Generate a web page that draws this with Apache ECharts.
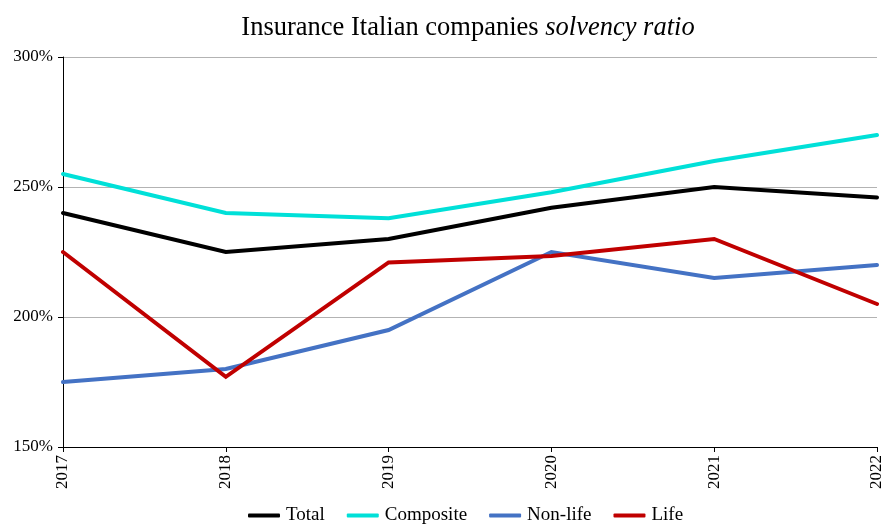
<!DOCTYPE html>
<html><head><meta charset="utf-8">
<script src="https://cdn.jsdelivr.net/npm/echarts@6/dist/echarts.min.js"></script>
<style>html,body{margin:0;padding:0;background:#fff}#c{width:882px;height:525px}</style>
</head><body><div id="c"></div>
<script>
const years = ['2017','2018','2019','2020','2021','2022'];
const total = [240, 225, 230, 242, 250, 246];
const composite = [255, 240, 238, 248, 260, 270];
const nonLife = [175, 180, 195, 225, 215, 220];
const life = [225, 177, 221, 223.5, 230, 205];
const serif = '"Liberation Serif", "Times New Roman", serif';
const chart = echarts.init(document.getElementById('c'));
function s(name, data, color){
  return {name, type:'line', data, symbol:'none', smooth:false,
    lineStyle:{width:4, color, cap:'round', join:'miter'}, itemStyle:{color}};
}
chart.setOption({
  animation:false,
  title:{left:463, textAlign:'center', top:10,
    text:'{a|Insurance Italian companies }{b|solvency ratio}',
    textStyle:{rich:{
      a:{fontFamily:serif, fontSize:26.5, fontWeight:'normal', color:'#000'},
      b:{fontFamily:serif, fontSize:26.5, fontWeight:'normal', fontStyle:'italic', color:'#000'}}}},
  grid:{left:63, right:5, top:57, bottom:78, containLabel:false, outerBoundsMode:'none'},
  legend:{bottom:-5, left:243, itemWidth:32, itemHeight:4, itemGap:22,
    icon:'roundRect',
    textStyle:{fontFamily:serif, fontSize:19, color:'#000', padding:[0,0,0,1]},
    data:['Total','Composite','Non-life','Life']},
  xAxis:{type:'category', data:years, boundaryGap:false,
    axisLine:{lineStyle:{color:'#000', width:1}},
    axisTick:{show:true, length:5, lineStyle:{color:'#000'}},
    axisLabel:{rotate:90, fontFamily:serif, fontSize:17, color:'#000', margin:8, interval:0}},
  yAxis:{type:'value', min:150, max:300, interval:50,
    axisLine:{show:true, lineStyle:{color:'#000', width:1}},
    axisTick:{show:true, length:5, lineStyle:{color:'#000'}},
    splitLine:{lineStyle:{color:'#b3b3b3', width:1}},
    axisLabel:{formatter:'{value}%', fontFamily:serif, fontSize:17, color:'#000', margin:10}},
  series:[
    s('Total', total, '#000000'),
    s('Composite', composite, '#00e0d8'),
    s('Non-life', nonLife, '#4472c4'),
    s('Life', life, '#c00000')
  ]
});
</script></body></html>
